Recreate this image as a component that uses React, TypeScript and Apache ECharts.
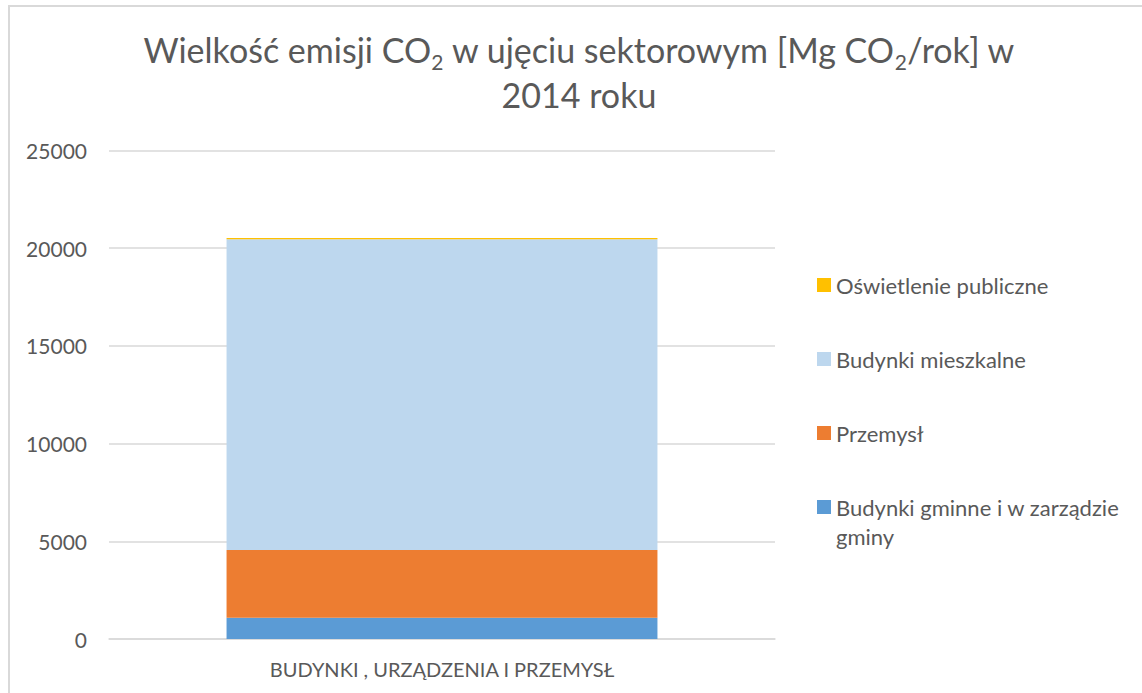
import React, { useEffect, useRef } from "react";
import * as echarts from "echarts";

const categories = ["BUDYNKI , URZĄDZENIA I PRZEMYSŁ"];
const nameGminne = "Budynki gminne i w zarządzie gminy";
const namePrzemysl = "Przemysł";
const nameMieszkalne = "Budynki mieszkalne";
const nameOswietlenie = "Oświetlenie publiczne";
const budynkiGminne = [1090];
const przemysl = [3465];
const budynkiMieszkalne = [15900];
const oswietlenie = [70];
const yMin = 0;
const yMax = 25000;
const yInterval = 5000;

const FONT = "Lato, 'Open Sans', sans-serif";
const TEXT = "#595959";
const GRID = "#D9D9D9";

export default function App() {
  const ref = useRef<HTMLDivElement>(null);
  useEffect(() => {
    if (!ref.current) return;
    const chart = echarts.init(ref.current, undefined, { renderer: "svg" });
    const legendText = { color: TEXT, fontSize: 22, fontFamily: FONT, lineHeight: 29 };
    chart.setOption({
      animation: false,
      textStyle: { fontFamily: FONT },
      title: {
        text: "Wielkość emisji CO{s|2} w ujęciu sektorowym [Mg CO{s|2}/rok] w\n2014 roku",
        left: 579,
        top: 27,
        padding: 0,
        textAlign: "center",
        textStyle: {
          fontFamily: FONT,
          fontWeight: "normal",
          fontSize: 34,
          lineHeight: 45,
          color: TEXT,
          rich: {
            s: { fontFamily: FONT, fontSize: 21, color: TEXT, verticalAlign: "bottom", lineHeight: 25 },
          },
        },
      },
      legend: [
        {
          orient: "vertical",
          left: 817,
          top: 270.5,
          itemWidth: 14,
          itemHeight: 14,
          itemGap: 45,
          icon: "rect",
          padding: 0,
          data: [nameOswietlenie, nameMieszkalne, namePrzemysl],
          textStyle: legendText,
        },
        {
          orient: "vertical",
          left: 817,
          top: 463.5,
          itemWidth: 14,
          itemHeight: 14,
          icon: "rect",
          padding: 0,
          data: [nameGminne],
          formatter: () => "\nBudynki gminne i w zarządzie\ngminy",
          textStyle: legendText,
        },
      ],
      grid: { left: 109, right: 367, top: 150.5, bottom: 54, containLabel: false },
      xAxis: {
        type: "category",
        data: categories,
        axisLine: { show: true, lineStyle: { color: GRID, width: 1.5 } },
        axisTick: { show: false },
        axisLabel: { color: TEXT, fontSize: 20, fontFamily: FONT, margin: 20 },
      },
      yAxis: {
        type: "value",
        min: yMin,
        max: yMax,
        interval: yInterval,
        axisLine: { show: false },
        axisTick: { show: false },
        axisLabel: { color: TEXT, fontSize: 21, fontFamily: FONT, margin: 22, formatter: (v: number) => String(v) },
        splitLine: { lineStyle: { color: GRID, width: 1.5 } },
      },
      series: [
        { name: nameGminne, type: "bar", stack: "t", data: budynkiGminne, barWidth: "64.7%", itemStyle: { color: "#5B9BD5" } },
        { name: namePrzemysl, type: "bar", stack: "t", data: przemysl, itemStyle: { color: "#ED7D31" } },
        { name: nameMieszkalne, type: "bar", stack: "t", data: budynkiMieszkalne, itemStyle: { color: "#BDD7EE" } },
        { name: nameOswietlenie, type: "bar", stack: "t", data: oswietlenie, itemStyle: { color: "#FFC000" } },
      ],
    });
    return () => chart.dispose();
  }, []);
  return (
    <div style={{ position: "fixed", left: 0, top: 0, width: 1142, height: 693, overflow: "hidden", background: "#fff" }}>
      <div
        style={{
          position: "absolute",
          left: 8,
          top: 5,
          width: 1200,
          height: 760,
          border: "2px solid #D9D9D9",
          boxSizing: "border-box",
        }}
      />
      <div ref={ref} style={{ position: "absolute", left: 0, top: 0, width: 1142, height: 693 }} />
    </div>
  );
}
